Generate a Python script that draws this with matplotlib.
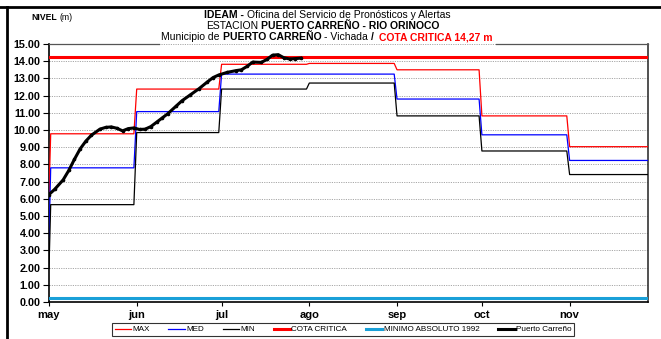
import numpy as np
import matplotlib
matplotlib.use("Agg")
import matplotlib.pyplot as plt
from matplotlib.lines import Line2D

plt.rcParams['font.family'] = ['Liberation Sans', 'DejaVu Sans']

# ---- data ----
months = ['may', 'jun', 'jul', 'ago', 'sep', 'oct', 'nov']
month_start = [0, 31, 61, 92, 123, 153, 184]      # day offsets from 1 May
axis_end_day = 211.7

# monthly reference levels (m)
max_prev, med_prev, min_prev = 6.3, 3.6, 2.0
max_vals = [9.78, 12.38, 13.82, 13.87, 13.50, 10.82, 9.03]
med_vals = [7.80, 11.07, 13.25, 13.25, 11.80, 9.72, 8.23]
min_vals = [5.66, 9.85, 12.38, 12.73, 10.82, 8.78, 7.41]

cota_critica = 14.27
minimo_1992 = 0.21

# observed daily levels at Puerto Carreño
obs_day = [0, 2, 5, 7, 9, 11, 13, 15, 18, 20, 22, 24, 26, 28, 30, 32, 34, 36,
           38, 40, 42, 45, 47, 50, 53, 56, 58, 60, 63, 66, 68, 70, 72, 75, 77,
           79, 81, 83, 85, 87, 89]
obs_level = [6.25, 6.55, 7.10, 7.65, 8.30, 8.90, 9.35, 9.70, 10.05, 10.15,
             10.18, 10.10, 9.95, 10.08, 10.12, 10.03, 10.05, 10.20, 10.45,
             10.70, 10.95, 11.40, 11.70, 12.05, 12.40, 12.80, 13.05, 13.20,
             13.35, 13.45, 13.50, 13.70, 13.95, 13.93, 14.10, 14.35, 14.38,
             14.20, 14.13, 14.15, 14.18]

yticks = np.arange(0, 16, 1)


def step_series(prev, vals):
    xs, ys = [0.0], [prev]
    for i, v in enumerate(vals):
        s = month_start[i] + (0.6 if i == 0 else 0.0)
        e = (month_start[i + 1] - 1) if i + 1 < len(month_start) else axis_end_day + 1
        xs += [s, e]
        ys += [v, v]
    return xs, ys


W, H = 661, 339
fig = plt.figure(figsize=(W / 100, H / 100), dpi=100)
ax = fig.add_axes([49 / W, 1 - 302 / H, (648 - 49) / W, (302 - 44) / H])

# grid
for y in yticks[1:]:
    ax.axhline(y, color='#a8a8a8', lw=0.7, ls=(0, (1.2, 1.2)), zorder=1)

xs, ys = step_series(max_prev, max_vals)
ax.plot(xs, ys, color='#ff0000', lw=0.9, zorder=3)
xs, ys = step_series(med_prev, med_vals)
ax.plot(xs, ys, color='#0000ff', lw=0.9, zorder=3)
xs, ys = step_series(min_prev, min_vals)
ax.plot(xs, ys, color='#000000', lw=0.9, zorder=3)

ax.axhline(cota_critica, color='#ff0000', lw=2.2, zorder=4)
ax.axhline(minimo_1992, color='#1aa0d8', lw=2.2, zorder=4)

ax.plot(obs_day, obs_level, color='black', lw=2.2, marker='o', ms=1.6,
        zorder=5)

ax.set_xlim(0, axis_end_day)
ax.set_ylim(0, 15)
ax.set_yticks(yticks)
ax.set_yticklabels([f'{v:.2f}' for v in yticks], fontsize=7.8, fontweight='bold')
ax.set_xticks(month_start)
ax.set_xticklabels(months, fontsize=8, fontweight='bold')
ax.tick_params(axis='y', length=4, width=0.8, pad=2)
ax.tick_params(axis='x', length=3, width=0.8, pad=3)

for side in ['left', 'bottom']:
    ax.spines[side].set_linewidth(1.2)
    ax.spines[side].set_color('black')
ax.spines['right'].set_color('#333333')
ax.spines['right'].set_linewidth(1.2)
ax.spines['top'].set_visible(False)

# ---- title block ----
fig.canvas.draw()
renderer = fig.canvas.get_renderer()


def text_width(s, size, weight):
    t = fig.text(0, 0, s, fontsize=size, fontweight=weight)
    w = t.get_window_extent(renderer).width
    t.remove()
    return w


def centered_line(cx, base_px, segs, size):
    sp = text_width('x x', size, 'normal') - text_width('xx', size, 'normal')
    widths = [text_width(s, size, w) for s, w, c, g in segs]
    total = sum(widths) + sum(g * sp for s, w, c, g in segs[:-1])
    x = cx - total / 2
    x0 = x
    for (s, w, c, g), wd in zip(segs, widths):
        fig.text(x / W, 1 - base_px / H, s, fontsize=size, fontweight=w,
                 color=c, va='baseline', ha='left')
        x += wd + g * sp
    return x0, x0 + total


tsize = 7.5
centered_line(327, 18.3, [('IDEAM -', 'bold', 'black', 1),
                          ('Oficina del Servicio de Pronósticos y Alertas', 'normal', 'black', 0)], tsize)
centered_line(323, 29.3, [('ESTACION', 'normal', 'black', 1),
                          ('PUERTO CARREÑO - RIO ORINOCO', 'bold', 'black', 0)], tsize)
l3a, l3b = centered_line(327, 40.0, [('Municipio de', 'normal', 'black', 1),
                                     ('PUERTO CARREÑO', 'bold', 'black', 1),
                                     ('- Vichada', 'normal', 'black', 1),
                                     ('/', 'bold', 'black', 2),
                                     ('COTA CRITICA 14,27 m', 'bold', '#ff0000', 0)], tsize)

# top frame of the plot, interrupted by the last title line
for xa, xb in [(49, l3a - 2), (l3b + 3, 648)]:
    fig.add_artist(Line2D([xa / W, xb / W], [1 - 43.5 / H, 1 - 43.5 / H],
                          color='#555555', lw=0.9, transform=fig.transFigure))

t = fig.text(31 / W, 1 - 20 / H, 'NIVEL', fontsize=6.2, fontweight='bold',
             va='baseline', ha='left')
wn = t.get_window_extent(renderer).width
fig.text((31 + wn + 3) / W, 1 - 20 / H, '(m)', fontsize=6.2,
         va='baseline', ha='left')

# outer border (top and left)
fig.add_artist(Line2D([0, 1], [1 - 7 / H, 1 - 7 / H], color='black', lw=2.0,
                      transform=fig.transFigure))
fig.add_artist(Line2D([7 / W, 7 / W], [0, 1 - 7 / H], color='black', lw=2.0,
                      transform=fig.transFigure))

# ---- legend ----
handles = [
    Line2D([], [], color='#ff0000', lw=0.9),
    Line2D([], [], color='#0000ff', lw=0.9),
    Line2D([], [], color='black', lw=0.9),
    Line2D([], [], color='#ff0000', lw=2.2),
    Line2D([], [], color='#1aa0d8', lw=2.2),
    Line2D([], [], color='black', lw=2.2),
]
labels = ['MAX', 'MED', 'MIN', 'COTA CRITICA', 'MINIMO ABSOLUTO 1992', 'Puerto Carreño']
leg = fig.legend(handles, labels, loc='center', ncol=6,
                 bbox_to_anchor=(343 / W, 1 - 329.5 / H), fontsize=5.9,
                 frameon=True, fancybox=False, edgecolor='black',
                 handlelength=2.0, handletextpad=0.15, columnspacing=2.3,
                 borderpad=0.35, borderaxespad=0)
leg.get_frame().set_linewidth(0.8)

fig.savefig('out.png', dpi=100)
